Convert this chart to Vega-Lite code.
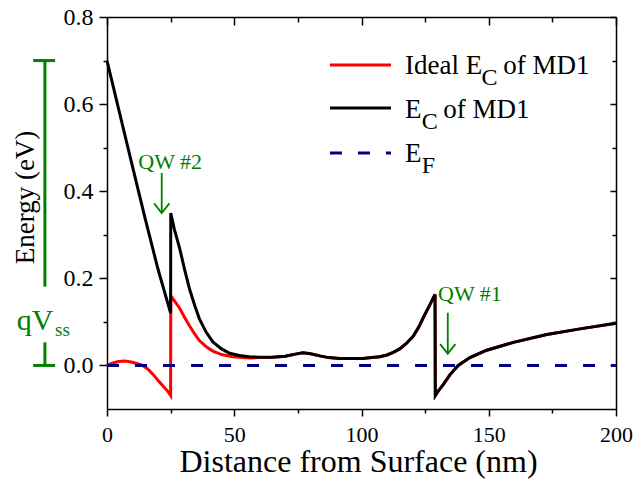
{
  "$schema": "https://vega.github.io/schema/vega-lite/v6.json",
  "width": 509,
  "height": 392,
  "autosize": {"type": "none"},
  "padding": {"left": 107, "top": 17, "right": 18, "bottom": 90},
  "background": "white",
  "config": {"view": {"stroke": null}, "font": "Liberation Serif"},
  "datasets": {
    "lines": [
      {"s": "ideal", "g": "c", "x": 0, "E": 0.0},
      {"s": "ideal", "g": "c", "x": 2, "E": 0.005},
      {"s": "ideal", "g": "c", "x": 4.5, "E": 0.009},
      {"s": "ideal", "g": "c", "x": 7, "E": 0.01},
      {"s": "ideal", "g": "c", "x": 9.5, "E": 0.008},
      {"s": "ideal", "g": "c", "x": 12, "E": 0.004},
      {"s": "ideal", "g": "c", "x": 14, "E": 0.0},
      {"s": "ideal", "g": "c", "x": 16, "E": -0.008},
      {"s": "ideal", "g": "c", "x": 18, "E": -0.02},
      {"s": "ideal", "g": "c", "x": 20, "E": -0.034},
      {"s": "ideal", "g": "c", "x": 22, "E": -0.047},
      {"s": "ideal", "g": "c", "x": 24, "E": -0.06},
      {"s": "ideal", "g": "c", "x": 25, "E": -0.069},
      {"s": "ideal", "g": "c", "x": 25.05, "E": 0.16},
      {"s": "ideal", "g": "c", "x": 26.5, "E": 0.148},
      {"s": "ideal", "g": "c", "x": 28.5, "E": 0.132},
      {"s": "ideal", "g": "c", "x": 30.5, "E": 0.11},
      {"s": "ideal", "g": "c", "x": 32.4, "E": 0.091},
      {"s": "ideal", "g": "c", "x": 34.5, "E": 0.072},
      {"s": "ideal", "g": "c", "x": 36.3, "E": 0.057},
      {"s": "ideal", "g": "c", "x": 39, "E": 0.043},
      {"s": "ideal", "g": "c", "x": 41.6, "E": 0.033},
      {"s": "ideal", "g": "c", "x": 45, "E": 0.025},
      {"s": "ideal", "g": "c", "x": 49.3, "E": 0.02},
      {"s": "ideal", "g": "c", "x": 56, "E": 0.017},
      {"s": "ideal", "g": "c", "x": 60, "E": 0.018},
      {"s": "ideal", "g": "c", "x": 65, "E": 0.019},
      {"s": "ideal", "g": "c", "x": 70, "E": 0.021},
      {"s": "ideal", "g": "c", "x": 74, "E": 0.026},
      {"s": "ideal", "g": "c", "x": 77, "E": 0.029},
      {"s": "ideal", "g": "c", "x": 80, "E": 0.027},
      {"s": "ideal", "g": "c", "x": 83.6, "E": 0.022},
      {"s": "ideal", "g": "c", "x": 87, "E": 0.018},
      {"s": "ideal", "g": "c", "x": 91.5, "E": 0.016},
      {"s": "ideal", "g": "c", "x": 96, "E": 0.016},
      {"s": "ideal", "g": "c", "x": 100.6, "E": 0.016},
      {"s": "ideal", "g": "c", "x": 104, "E": 0.018},
      {"s": "ideal", "g": "c", "x": 107.2, "E": 0.02},
      {"s": "ideal", "g": "c", "x": 110, "E": 0.024},
      {"s": "ideal", "g": "c", "x": 112.5, "E": 0.03},
      {"s": "ideal", "g": "c", "x": 115, "E": 0.038},
      {"s": "ideal", "g": "c", "x": 117.5, "E": 0.05},
      {"s": "ideal", "g": "c", "x": 120.3, "E": 0.067},
      {"s": "ideal", "g": "c", "x": 122.5, "E": 0.088},
      {"s": "ideal", "g": "c", "x": 124.3, "E": 0.11},
      {"s": "ideal", "g": "c", "x": 126.5, "E": 0.135},
      {"s": "ideal", "g": "c", "x": 128.9, "E": 0.163},
      {"s": "ideal", "g": "c", "x": 129.0, "E": -0.069},
      {"s": "ideal", "g": "c", "x": 130, "E": -0.06},
      {"s": "ideal", "g": "c", "x": 132.1, "E": -0.044},
      {"s": "ideal", "g": "c", "x": 134.8, "E": -0.021},
      {"s": "ideal", "g": "c", "x": 138, "E": 0.0},
      {"s": "ideal", "g": "c", "x": 142.6, "E": 0.018},
      {"s": "ideal", "g": "c", "x": 149.2, "E": 0.035},
      {"s": "ideal", "g": "c", "x": 159.7, "E": 0.053},
      {"s": "ideal", "g": "c", "x": 172.8, "E": 0.071},
      {"s": "ideal", "g": "c", "x": 185.9, "E": 0.084},
      {"s": "ideal", "g": "c", "x": 200, "E": 0.097},
      {"s": "ideal", "g": "L", "x": 87.6, "E": 0.69},
      {"s": "ideal", "g": "L", "x": 111.6, "E": 0.69},

      {"s": "md1", "g": "c", "x": 0, "E": 0.7},
      {"s": "md1", "g": "c", "x": 5, "E": 0.578},
      {"s": "md1", "g": "c", "x": 10, "E": 0.457},
      {"s": "md1", "g": "c", "x": 15, "E": 0.337},
      {"s": "md1", "g": "c", "x": 20, "E": 0.222},
      {"s": "md1", "g": "c", "x": 25, "E": 0.12},
      {"s": "md1", "g": "c", "x": 25.05, "E": 0.35},
      {"s": "md1", "g": "c", "x": 26.5, "E": 0.312},
      {"s": "md1", "g": "c", "x": 28.5, "E": 0.27},
      {"s": "md1", "g": "c", "x": 30.5, "E": 0.22},
      {"s": "md1", "g": "c", "x": 32.4, "E": 0.176},
      {"s": "md1", "g": "c", "x": 34.5, "E": 0.137},
      {"s": "md1", "g": "c", "x": 36.3, "E": 0.107},
      {"s": "md1", "g": "c", "x": 39, "E": 0.076},
      {"s": "md1", "g": "c", "x": 41.6, "E": 0.054},
      {"s": "md1", "g": "c", "x": 45, "E": 0.038},
      {"s": "md1", "g": "c", "x": 48.2, "E": 0.028},
      {"s": "md1", "g": "c", "x": 52, "E": 0.023},
      {"s": "md1", "g": "c", "x": 56, "E": 0.02},
      {"s": "md1", "g": "c", "x": 60, "E": 0.019},
      {"s": "md1", "g": "c", "x": 65, "E": 0.019},
      {"s": "md1", "g": "c", "x": 70, "E": 0.021},
      {"s": "md1", "g": "c", "x": 74, "E": 0.026},
      {"s": "md1", "g": "c", "x": 77, "E": 0.029},
      {"s": "md1", "g": "c", "x": 80, "E": 0.027},
      {"s": "md1", "g": "c", "x": 83.6, "E": 0.022},
      {"s": "md1", "g": "c", "x": 87, "E": 0.018},
      {"s": "md1", "g": "c", "x": 91.5, "E": 0.016},
      {"s": "md1", "g": "c", "x": 96, "E": 0.016},
      {"s": "md1", "g": "c", "x": 100.6, "E": 0.016},
      {"s": "md1", "g": "c", "x": 104, "E": 0.018},
      {"s": "md1", "g": "c", "x": 107.2, "E": 0.02},
      {"s": "md1", "g": "c", "x": 110, "E": 0.024},
      {"s": "md1", "g": "c", "x": 112.5, "E": 0.03},
      {"s": "md1", "g": "c", "x": 115, "E": 0.038},
      {"s": "md1", "g": "c", "x": 117.5, "E": 0.05},
      {"s": "md1", "g": "c", "x": 120.3, "E": 0.067},
      {"s": "md1", "g": "c", "x": 122.5, "E": 0.088},
      {"s": "md1", "g": "c", "x": 124.3, "E": 0.11},
      {"s": "md1", "g": "c", "x": 126.5, "E": 0.135},
      {"s": "md1", "g": "c", "x": 128.9, "E": 0.163},
      {"s": "md1", "g": "c", "x": 129.0, "E": -0.069},
      {"s": "md1", "g": "c", "x": 130, "E": -0.06},
      {"s": "md1", "g": "c", "x": 132.1, "E": -0.044},
      {"s": "md1", "g": "c", "x": 134.8, "E": -0.021},
      {"s": "md1", "g": "c", "x": 138, "E": 0.0},
      {"s": "md1", "g": "c", "x": 142.6, "E": 0.018},
      {"s": "md1", "g": "c", "x": 149.2, "E": 0.035},
      {"s": "md1", "g": "c", "x": 159.7, "E": 0.053},
      {"s": "md1", "g": "c", "x": 172.8, "E": 0.071},
      {"s": "md1", "g": "c", "x": 185.9, "E": 0.084},
      {"s": "md1", "g": "c", "x": 200, "E": 0.097},
      {"s": "md1", "g": "L", "x": 87.6, "E": 0.591},
      {"s": "md1", "g": "L", "x": 111.6, "E": 0.591},

      {"s": "ef", "g": "c", "x": 0, "E": 0},
      {"s": "ef", "g": "c", "x": 200, "E": 0},
      {"s": "ef", "g": "L", "x": 87.6, "E": 0.488},
      {"s": "ef", "g": "L", "x": 111.6, "E": 0.488}
    ],
    "green": [
      {"k": "arrow", "g": "a2", "o": 0, "x": 21.5, "E": 0.442},
      {"k": "arrow", "g": "a2", "o": 1, "x": 21.5, "E": 0.352},
      {"k": "arrow", "g": "h2", "o": 0, "x": 18.5, "E": 0.372},
      {"k": "arrow", "g": "h2", "o": 1, "x": 21.5, "E": 0.35},
      {"k": "arrow", "g": "h2", "o": 2, "x": 24.5, "E": 0.372},
      {"k": "arrow", "g": "a1", "o": 0, "x": 133.9, "E": 0.121},
      {"k": "arrow", "g": "a1", "o": 1, "x": 133.9, "E": 0.03},
      {"k": "arrow", "g": "h1", "o": 0, "x": 130.9, "E": 0.049},
      {"k": "arrow", "g": "h1", "o": 1, "x": 133.9, "E": 0.027},
      {"k": "arrow", "g": "h1", "o": 2, "x": 136.9, "E": 0.049},
      {"k": "bar", "g": "v1", "o": 0, "x": -24.4, "E": 0.7},
      {"k": "bar", "g": "v1", "o": 1, "x": -24.4, "E": 0.181},
      {"k": "bar", "g": "t1", "o": 0, "x": -29.0, "E": 0.7},
      {"k": "bar", "g": "t1", "o": 1, "x": -20.4, "E": 0.7},
      {"k": "bar", "g": "v2", "o": 0, "x": -24.4, "E": 0.053},
      {"k": "bar", "g": "v2", "o": 1, "x": -24.4, "E": 0.0},
      {"k": "bar", "g": "t2", "o": 0, "x": -29.0, "E": 0.0},
      {"k": "bar", "g": "t2", "o": 1, "x": -20.4, "E": 0.0}
    ],
    "texts": [
      {"k": "leg", "t": "Ideal E", "x": 117.1, "E": 0.669},
      {"k": "sub", "t": "C", "x": 147.2, "E": 0.644},
      {"k": "leg", "t": "of MD1", "x": 155.7, "E": 0.669},
      {"k": "leg", "t": "E", "x": 117.1, "E": 0.568},
      {"k": "sub", "t": "C", "x": 123.7, "E": 0.544},
      {"k": "leg", "t": "of MD1", "x": 132.1, "E": 0.568},
      {"k": "leg", "t": "E", "x": 117.1, "E": 0.468},
      {"k": "sub", "t": "F", "x": 123.7, "E": 0.442},
      {"k": "qw", "t": "QW #2", "x": 24.8, "E": 0.452},
      {"k": "qw", "t": "QW #1", "x": 142.6, "E": 0.147},
      {"k": "qv", "t": "qV", "x": -35.5, "E": 0.081},
      {"k": "ss", "t": "ss", "x": -20.4, "E": 0.067}
    ]
  },
  "layer": [
    {
      "data": {"name": "lines"},
      "transform": [{"filter": "datum.s === 'ideal'"}],
      "mark": {"type": "line", "color": "#ff0000", "strokeWidth": 3, "clip": false},
      "encoding": {
        "x": {
          "field": "x", "type": "quantitative",
          "scale": {"domain": [0, 200], "nice": false, "zero": false},
          "axis": {
            "orient": "bottom",
            "values": [0, 25, 50, 75, 100, 125, 150, 175, 200],
            "format": "d",
            "labelExpr": "datum.value % 50 === 0 ? datum.label : ''",
            "tickSize": {"condition": {"test": "datum.value % 50 === 0", "value": 7}, "value": 4},
            "grid": false,
            "domainColor": "#000", "domainWidth": 1.5,
            "tickColor": "#000", "tickWidth": 1.5,
            "labelFont": "Liberation Serif", "labelFontSize": 22, "labelColor": "#000",
            "labelPadding": 8, "labelFlush": false, "labelOverlap": false,
            "title": "Distance from Surface (nm)",
            "titleFont": "Liberation Serif", "titleFontSize": 32, "titleFontWeight": "normal", "titleColor": "#000",
            "titleBaseline": "alphabetic", "titleX": 251, "titleY": 62
          }
        },
        "y": {
          "field": "E", "type": "quantitative",
          "scale": {"domain": [-0.1, 0.8], "nice": false, "zero": false},
          "axis": {
            "orient": "left",
            "values": [0, 0.1, 0.2, 0.3, 0.4, 0.5, 0.6, 0.7, 0.8],
            "format": ".1f",
            "labelExpr": "round(datum.value * 10) % 2 === 0 ? datum.label : ''",
            "tickSize": {"condition": {"test": "round(datum.value * 10) % 2 === 0", "value": 8}, "value": 4},
            "grid": false,
            "domainColor": "#000", "domainWidth": 1.5,
            "tickColor": "#000", "tickWidth": 1.5,
            "labelFont": "Liberation Serif", "labelFontSize": 24, "labelColor": "#000",
            "labelPadding": 6, "labelFlush": false, "labelOverlap": false,
            "title": "Energy (eV)",
            "titleFont": "Liberation Serif", "titleFontSize": 27, "titleFontWeight": "normal", "titleColor": "#000",
            "titleBaseline": "alphabetic", "titleAngle": 270, "titleX": -74, "titleY": 180
          }
        },
        "detail": {"field": "g"}
      }
    },
    {
      "data": {"name": "lines"},
      "transform": [{"filter": "datum.s === 'md1'"}],
      "mark": {"type": "line", "color": "#000000", "strokeWidth": 3, "clip": false},
      "encoding": {
        "x": {
          "field": "x", "type": "quantitative",
          "scale": {"domain": [0, 200], "nice": false, "zero": false},
          "axis": {
            "orient": "top",
            "values": [0, 25, 50, 75, 100, 125, 150, 175, 200],
            "labels": false, "title": null, "grid": false,
            "tickSize": {"condition": {"test": "datum.value % 50 === 0", "value": -8}, "value": -5},
            "domainColor": "#000", "domainWidth": 1.5,
            "tickColor": "#000", "tickWidth": 1.5
          }
        },
        "y": {
          "field": "E", "type": "quantitative",
          "scale": {"domain": [-0.1, 0.8], "nice": false, "zero": false},
          "axis": {
            "orient": "right",
            "values": [0, 0.1, 0.2, 0.3, 0.4, 0.5, 0.6, 0.7, 0.8],
            "labels": false, "title": null, "grid": false,
            "tickSize": {"condition": {"test": "round(datum.value * 10) % 2 === 0", "value": -6}, "value": -4},
            "domainColor": "#000", "domainWidth": 1.5,
            "tickColor": "#000", "tickWidth": 1.5
          }
        },
        "detail": {"field": "g"}
      }
    },
    {
      "data": {"name": "lines"},
      "transform": [{"filter": "datum.s === 'ef'"}],
      "mark": {"type": "line", "color": "#000080", "strokeWidth": 3, "strokeDash": [12, 16], "clip": false},
      "encoding": {
        "x": {"field": "x", "type": "quantitative", "axis": null},
        "y": {"field": "E", "type": "quantitative", "axis": null},
        "detail": {"field": "g"}
      }
    },
    {
      "data": {"name": "green"},
      "transform": [{"filter": "datum.k === 'arrow'"}],
      "mark": {"type": "line", "color": "#008000", "strokeWidth": 1.8, "clip": false},
      "encoding": {
        "x": {"field": "x", "type": "quantitative", "axis": null},
        "y": {"field": "E", "type": "quantitative", "axis": null},
        "detail": {"field": "g"},
        "order": {"field": "o"}
      }
    },
    {
      "data": {"name": "green"},
      "transform": [{"filter": "datum.k === 'bar'"}],
      "mark": {"type": "line", "color": "#008000", "strokeWidth": 3, "clip": false},
      "encoding": {
        "x": {"field": "x", "type": "quantitative", "axis": null},
        "y": {"field": "E", "type": "quantitative", "axis": null},
        "detail": {"field": "g"},
        "order": {"field": "o"}
      }
    },
    {
      "data": {"name": "texts"},
      "transform": [{"filter": "datum.k === 'leg'"}],
      "mark": {"type": "text", "font": "Liberation Serif", "fontSize": 27, "align": "left", "baseline": "alphabetic", "color": "#000"},
      "encoding": {
        "x": {"field": "x", "type": "quantitative", "axis": null},
        "y": {"field": "E", "type": "quantitative", "axis": null},
        "text": {"field": "t"}
      }
    },
    {
      "data": {"name": "texts"},
      "transform": [{"filter": "datum.k === 'sub'"}],
      "mark": {"type": "text", "font": "Liberation Serif", "fontSize": 24, "align": "left", "baseline": "alphabetic", "color": "#000"},
      "encoding": {
        "x": {"field": "x", "type": "quantitative", "axis": null},
        "y": {"field": "E", "type": "quantitative", "axis": null},
        "text": {"field": "t"}
      }
    },
    {
      "data": {"name": "texts"},
      "transform": [{"filter": "datum.k === 'qw'"}],
      "mark": {"type": "text", "font": "Liberation Serif", "fontSize": 22, "align": "center", "baseline": "alphabetic", "color": "#008000"},
      "encoding": {
        "x": {"field": "x", "type": "quantitative", "axis": null},
        "y": {"field": "E", "type": "quantitative", "axis": null},
        "text": {"field": "t"}
      }
    },
    {
      "data": {"name": "texts"},
      "transform": [{"filter": "datum.k === 'qv'"}],
      "mark": {"type": "text", "font": "Liberation Serif", "fontSize": 30, "align": "left", "baseline": "alphabetic", "color": "#008000"},
      "encoding": {
        "x": {"field": "x", "type": "quantitative", "axis": null},
        "y": {"field": "E", "type": "quantitative", "axis": null},
        "text": {"field": "t"}
      }
    },
    {
      "data": {"name": "texts"},
      "transform": [{"filter": "datum.k === 'ss'"}],
      "mark": {"type": "text", "font": "Liberation Serif", "fontSize": 19, "align": "left", "baseline": "alphabetic", "color": "#008000"},
      "encoding": {
        "x": {"field": "x", "type": "quantitative", "axis": null},
        "y": {"field": "E", "type": "quantitative", "axis": null},
        "text": {"field": "t"}
      }
    }
  ],
  "resolve": {"axis": {"x": "independent", "y": "independent"}}
}
